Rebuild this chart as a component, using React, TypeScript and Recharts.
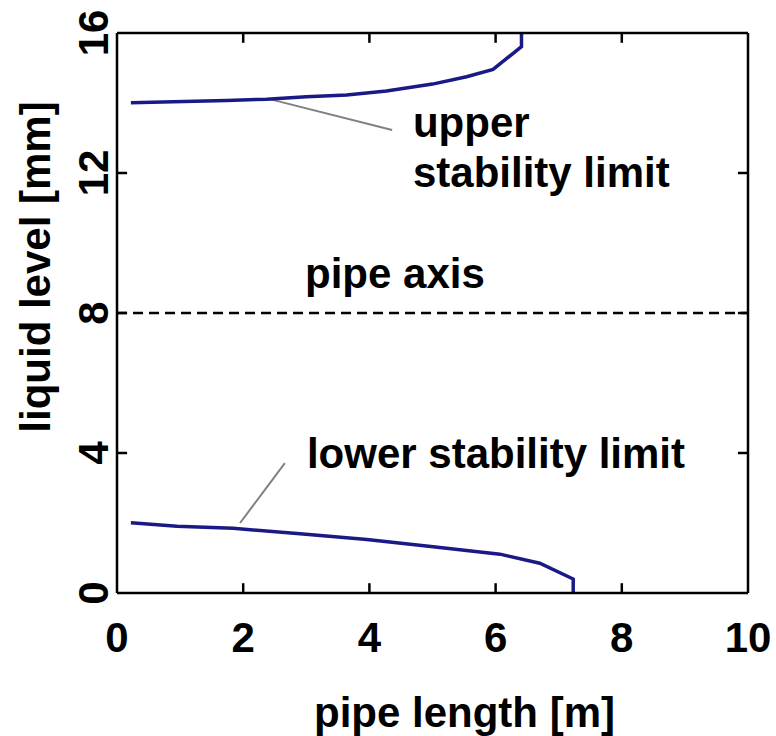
import { LineChart, Line, XAxis, YAxis, ReferenceLine, ReferenceDot } from "recharts";

// upper stability limit: pipe length [m] vs liquid level [mm]
const upperX = [0.22, 1.74, 2.37, 3.0, 3.64, 4.27, 5.0, 5.54, 5.96, 6.41, 6.41];
const upperY = [14.01, 14.07, 14.11, 14.18, 14.23, 14.34, 14.54, 14.75, 14.96, 15.61, 16.0];

// lower stability limit
const lowerX = [0.22, 0.95, 1.84, 2.9, 3.96, 5.01, 6.07, 6.7, 7.23, 7.23];
const lowerY = [2.01, 1.91, 1.85, 1.69, 1.53, 1.32, 1.11, 0.85, 0.4, 0.0];

const xTicks = [0, 2, 4, 6, 8, 10];
const yTicks = [0, 4, 8, 12, 16];
const pipeAxis = 8;

const upperData = upperX.map((x, i) => ({ x, y: upperY[i] }));
const lowerData = lowerX.map((x, i) => ({ x, y: lowerY[i] }));

const FONT = "'Liberation Sans', Arial, Helvetica, sans-serif";
const NAVY = "#1a1a86";

// inward tick length (~10px) expressed in axis units
const X_DOMAIN = [0, 10];
const Y_DOMAIN = [0, 16];
const TICK_DY = 0.28;
const TICK_DX = 0.16;

const txt = { fontFamily: FONT, fontWeight: 700, fontSize: 42, fill: "#000" };

const BottomTick = (p: any) => (
  <text x={Number(p.x)} y={Number(p.y)} textAnchor="middle" style={txt}>
    {p.payload.value}
  </text>
);

const LeftTick = (p: any) => {
  const x = Number(p.x);
  const y = Number(p.y);
  return (
    <text x={x} y={y} textAnchor="middle" transform={`rotate(-90 ${x} ${y})`} style={txt}>
      {p.payload.value}
    </text>
  );
};

const note = (value: string) => (p: any) =>
  <text x={p.viewBox.x} y={p.viewBox.y} textAnchor="start" style={txt}>{value}</text>;

const frame = { stroke: "#000", strokeWidth: 2.5 };

export default function App() {
  const inner = (t: number, lo: number, hi: number) => t > lo && t < hi;
  const xi = xTicks.filter((t) => inner(t, X_DOMAIN[0], X_DOMAIN[1]));
  const yi = yTicks.filter((t) => inner(t, Y_DOMAIN[0], Y_DOMAIN[1]));
  return (
    <div style={{ position: "absolute", left: 0, top: 0, width: 776, height: 736, background: "#fff" }}>
      <LineChart width={776} height={736} margin={{ top: 32, right: 27, left: 0, bottom: 0 }}>
        <XAxis
          dataKey="x"
          type="number"
          domain={X_DOMAIN}
          ticks={xTicks}
          height={143}
          tickSize={0}
          tickMargin={59}
          tick={<BottomTick />}
          tickLine={false}
          axisLine={frame}
          label={(p: any) => (
            <text x={p.viewBox.x + p.viewBox.width / 2 + 32} y={p.viewBox.y + 134} textAnchor="middle" style={txt}>
              pipe length [m]
            </text>
          )}
        />
        <XAxis xAxisId="top" orientation="top" type="number" domain={X_DOMAIN} height={1} tick={false} tickLine={false} axisLine={frame} />
        <YAxis
          type="number"
          domain={Y_DOMAIN}
          ticks={yTicks}
          width={117}
          tickSize={0}
          tickMargin={9}
          tick={<LeftTick />}
          tickLine={false}
          axisLine={frame}
          label={(p: any) => {
            const x = p.viewBox.x + 50;
            const y = p.viewBox.y + p.viewBox.height / 2 - 46;
            return (
              <text x={x} y={y} textAnchor="middle" transform={`rotate(-90 ${x} ${y})`} style={txt}>
                liquid level [mm]
              </text>
            );
          }}
        />
        <YAxis yAxisId="right" orientation="right" type="number" domain={Y_DOMAIN} width={1} tick={false} tickLine={false} axisLine={frame} />

        {/* inward tick marks on all four sides */}
        {xi.map((t) => (
          <ReferenceLine key={`b${t}`} ifOverflow="visible" segment={[{ x: t, y: Y_DOMAIN[0] + TICK_DY }, { x: t, y: Y_DOMAIN[0] + 0.001 }]} stroke="#000" strokeWidth={2.5} />
        ))}
        {xi.map((t) => (
          <ReferenceLine key={`t${t}`} ifOverflow="visible" segment={[{ x: t, y: Y_DOMAIN[1] - TICK_DY }, { x: t, y: Y_DOMAIN[1] - 0.001 }]} stroke="#000" strokeWidth={2.5} />
        ))}
        {yi.map((t) => (
          <ReferenceLine key={`l${t}`} ifOverflow="visible" segment={[{ x: X_DOMAIN[0] + TICK_DX, y: t }, { x: X_DOMAIN[0] + 0.001, y: t }]} stroke="#000" strokeWidth={2.5} />
        ))}
        {yi.map((t) => (
          <ReferenceLine key={`r${t}`} ifOverflow="visible" segment={[{ x: X_DOMAIN[1] - TICK_DX, y: t }, { x: X_DOMAIN[1] - 0.001, y: t }]} stroke="#000" strokeWidth={2.5} />
        ))}

        <ReferenceLine y={pipeAxis} stroke="#000" strokeWidth={2.5} strokeDasharray="10 6" />

        <ReferenceLine segment={[{ x: 2.42, y: 14.11 }, { x: 4.36, y: 13.23 }]} stroke="#808080" strokeWidth={2} />
        <ReferenceLine segment={[{ x: 1.95, y: 2.0 }, { x: 2.66, y: 3.71 }]} stroke="#808080" strokeWidth={2} />

        <Line data={upperData} dataKey="y" type="linear" stroke={NAVY} strokeWidth={3.5} dot={false} activeDot={false} isAnimationActive={false} />
        <Line data={lowerData} dataKey="y" type="linear" stroke={NAVY} strokeWidth={3.5} dot={false} activeDot={false} isAnimationActive={false} />

        <ReferenceDot x={4.69} y={13.03} r={0} stroke="none" fill="none" label={note("upper")} />
        <ReferenceDot x={4.69} y={11.6} r={0} stroke="none" fill="none" label={note("stability limit")} />
        <ReferenceDot x={2.98} y={8.71} r={0} stroke="none" fill="none" label={note("pipe axis")} />
        <ReferenceDot x={3.01} y={3.57} r={0} stroke="none" fill="none" label={note("lower stability limit")} />
      </LineChart>
    </div>
  );
}
